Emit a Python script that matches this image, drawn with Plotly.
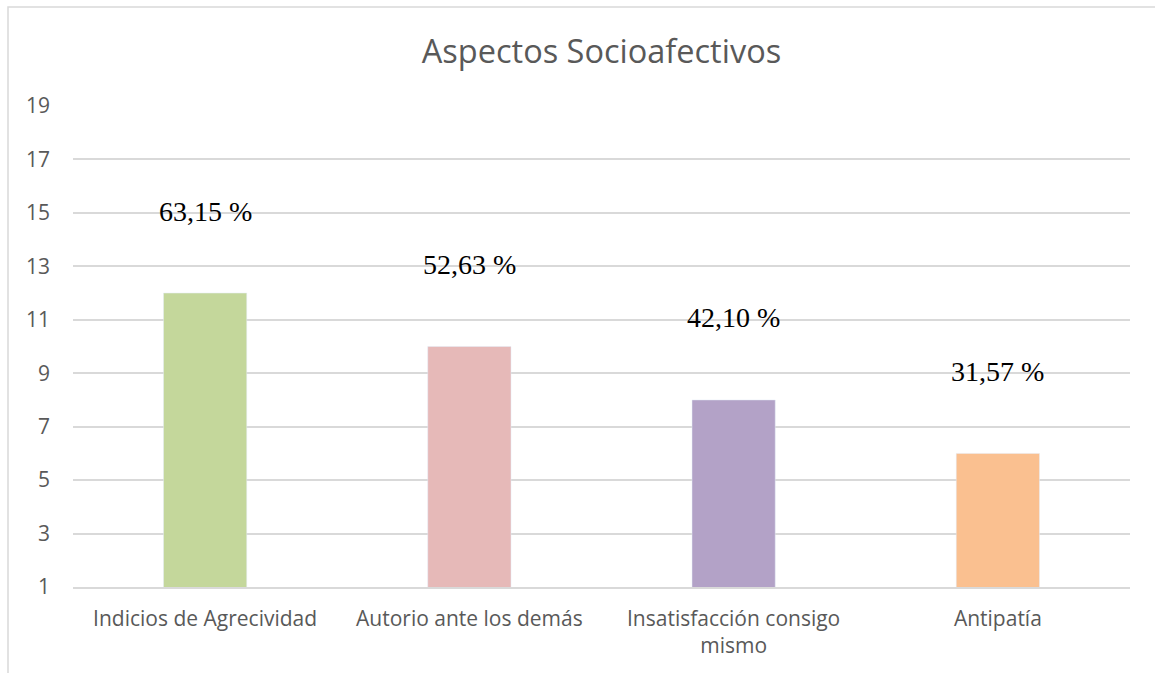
import plotly.graph_objects as go

# Data
categories = ["Indicios de Agrecividad", "Autorio ante los demás",
              "Insatisfacción consigo<br>mismo", "Antipatía"]
counts = [12, 10, 8, 6]
percent_labels = ["63,15 %", "52,63 %", "42,10 %", "31,57 %"]
bar_colors = ["#C4D79B", "#E6B9B8", "#B3A2C7", "#FAC090"]
y_ticks = [1, 3, 5, 7, 9, 11, 13, 15, 17, 19]

W, H = 1155, 673
L, R, T, B = 73, 25, 106, 86
pw, ph = W - L - R, H - T - B

fig = go.Figure(go.Bar(
    x=categories, y=counts, marker_color=bar_colors, width=0.315,
    hoverinfo="x+y",
))

for cat, val, lab in zip(categories, counts, percent_labels):
    fig.add_annotation(x=cat, y=val, text=lab, showarrow=False, yshift=82,
                       font=dict(family="Liberation Serif", size=28, color="#000000"))

# outer chart-area frame
def px_x(p):
    return (p - L) / pw

def px_y(p):
    return (H - B - p) / ph

fig.add_shape(type="rect", xref="paper", yref="paper",
              x0=px_x(8), x1=px_x(1170), y0=px_y(690), y1=px_y(7),
              line=dict(color="#D9D9D9", width=1.5), fillcolor="rgba(0,0,0,0)",
              layer="below")

fig.update_layout(
    width=W, height=H,
    margin=dict(l=L, r=R, t=T, b=B),
    paper_bgcolor="white", plot_bgcolor="white",
    title=dict(text="Aspectos Socioafectivos", x=0.5, xref="paper", xanchor="center",
               y=1 - 52 / H, yanchor="middle",
               font=dict(family="Open Sans", size=32.5, color="#595959")),
    showlegend=False,
)
fig.update_yaxes(range=[1, 19], tickvals=y_ticks, showgrid=True, gridcolor="#D9D9D9",
                 gridwidth=1.5, zeroline=False, showline=False, ticks="",
                 ticklabelstandoff=22,
                 tickfont=dict(family="Open Sans", size=21, color="#595959"))
fig.update_xaxes(showgrid=False, showline=True, linecolor="#D9D9D9", linewidth=1.5,
                 ticks="", ticklabelstandoff=12,
                 tickfont=dict(family="Open Sans", size=21, color="#595959"))

fig.write_html("out.html")
